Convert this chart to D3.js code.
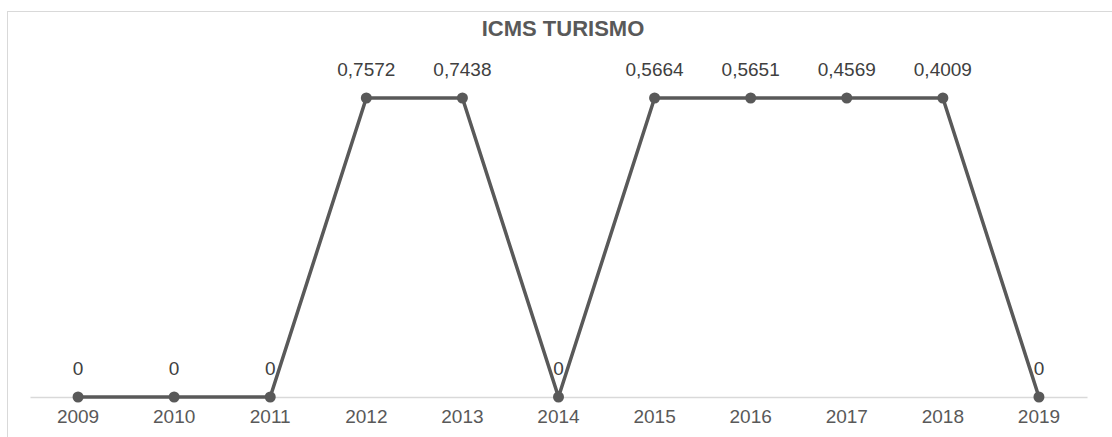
<!DOCTYPE html>
<html>
<head>
<meta charset="utf-8">
<script src="https://cdn.jsdelivr.net/npm/d3@7"></script>
<style>
  body { margin: 0; background: #fff; }
  text { font-family: "Liberation Sans", Arial, sans-serif; }
</style>
</head>
<body>
<div id="canvas"></div>
<script>
"use strict";

// data
let years = ["2009", "2010", "2011", "2012", "2013", "2014", "2015", "2016", "2017", "2018", "2019"];
// height of each point as drawn (all non-zero years sit on the same level)
let plotted = [0, 0, 0, 1, 1, 0, 1, 1, 1, 1, 0];
// the values printed above the points
let labels = ["0", "0", "0", "0,7572", "0,7438", "0", "0,5664", "0,5651", "0,4569", "0,4009", "0"];

let width = 1112, height = 437;

let drawing = d3.select("#canvas")
    .append("svg")
    .attr("width", width)
    .attr("height", height);

// chart frame
drawing.append("rect")
    .attr("x", 7.5)
    .attr("y", 11.5)
    .attr("width", 1110)
    .attr("height", 440)
    .attr("fill", "none")
    .attr("stroke", "#d9d9d9");

drawing.append("text")
    .attr("x", 563)
    .attr("y", 36)
    .attr("text-anchor", "middle")
    .attr("font-size", 22)
    .attr("font-weight", "bold")
    .attr("fill", "#595959")
    .text("ICMS TURISMO");

let x = d3.scaleBand()
    .domain(years)
    .range([30, 1087]);

let y = d3.scaleLinear()
    .domain([0, 1])
    .range([397, 98]);

let cx = d => x(d) + x.bandwidth() / 2;

// x axis
let axis = drawing.append("g")
    .attr("transform", "translate(0," + y(0) + ")")
    .call(d3.axisBottom(x).tickSize(0).tickPadding(13));
axis.select(".domain").attr("stroke", "#d9d9d9").attr("stroke-width", 1.3);
axis.selectAll("text")
    .attr("font-size", 19)
    .attr("fill", "#595959")
    .style("font-family", "Liberation Sans, Arial, sans-serif");

let pts = years.map((yr, i) => ({ year: yr, v: plotted[i], label: labels[i] }));

let line = d3.line()
    .x(d => cx(d.year))
    .y(d => y(d.v));

drawing.append("path")
    .datum(pts)
    .attr("d", line)
    .attr("fill", "none")
    .attr("stroke", "#595959")
    .attr("stroke-width", 3.5)
    .attr("stroke-linejoin", "round");

drawing.selectAll("circle.pt")
    .data(pts)
    .join("circle")
    .attr("class", "pt")
    .attr("cx", d => cx(d.year))
    .attr("cy", d => y(d.v))
    .attr("r", 5.5)
    .attr("fill", "#595959");

drawing.selectAll("text.lbl")
    .data(pts)
    .join("text")
    .attr("class", "lbl")
    .attr("x", d => cx(d.year))
    .attr("y", d => y(d.v) - 22)
    .attr("text-anchor", "middle")
    .attr("font-size", 19)
    .attr("fill", "#404040")
    .text(d => d.label);
</script>
</body>
</html>
